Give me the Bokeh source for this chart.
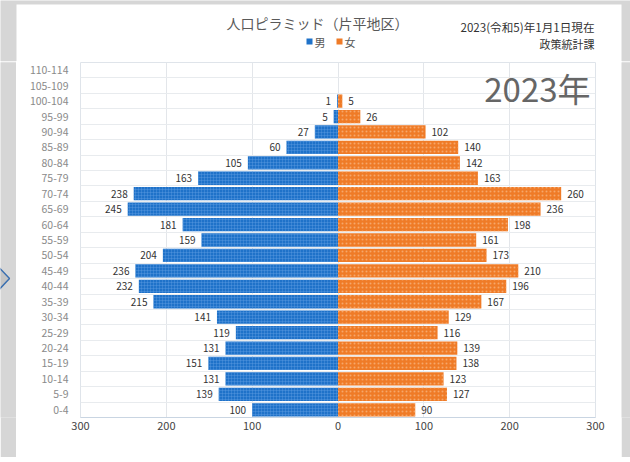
from bokeh.plotting import figure
from bokeh.layouts import column, row
from bokeh.models import Range1d, FixedTicker, ColumnDataSource, Label
from bokeh.core.properties import value
from bokeh.embed import file_html
from bokeh.resources import INLINE

FONT = "Noto Sans CJK JP"

ages = ["0-4", "5-9", "10-14", "15-19", "20-24", "25-29", "30-34", "35-39",
        "40-44", "45-49", "50-54", "55-59", "60-64", "65-69", "70-74", "75-79",
        "80-84", "85-89", "90-94", "95-99", "100-104", "105-109", "110-114"]
male = [100, 139, 131, 151, 131, 119, 141, 215, 232, 236, 204, 159, 181, 245,
        238, 163, 105, 60, 27, 5, 1, 0, 0]
female = [90, 127, 123, 138, 139, 116, 129, 167, 196, 210, 173, 161, 198, 236,
          260, 163, 142, 140, 102, 26, 5, 0, 0]
x_ticks = [-300, -200, -100, 0, 100, 200, 300]
x_tick_labels = ["300", "200", "100", "0", "100", "200", "300"]

title_text = "人口ピラミッド（片平地区）"
series_names = ["男", "女"]
date_text = "2023(令和5)年1月1日現在"
dept_text = "政策統計課"
year_text = "2023年"

BLUE = "#1f72c9"
ORANGE = "#ef7b27"
GRAY = "#d6d6d6"


def strip(w, h, y0, y1):
    f = figure(width=w, height=h, x_range=Range1d(0, w), y_range=Range1d(y1, y0),
               output_backend="svg", toolbar_location=None, min_border=0,
               x_axis_location=None, y_axis_location=None)
    f.grid.visible = False
    f.outline_line_color = None
    f.background_fill_color = GRAY
    f.border_fill_color = GRAY
    return f


# ---- header (page pixels 0..61) ----
hdr = strip(630, 61, 0, 61)
hdr.quad(left=[16], right=[621], top=[4], bottom=[61], fill_color="white", line_color=None)
hdr.text(x=[317], y=[22], text=[title_text], text_align="center", text_baseline="middle",
         text_font=value(FONT), text_font_size="14px", text_color="#595959")
hdr.scatter(x=[309, 339], y=[41, 41], marker="square", size=6,
            fill_color=[BLUE, ORANGE], line_color=None)
hdr.text(x=[314, 344], y=[41, 41], text=series_names, text_align="left",
         text_baseline="middle", text_font=value(FONT), text_font_size="11px",
         text_color="#595959")
hdr.text(x=[594], y=[26], text=[date_text], text_align="right", text_baseline="middle",
         text_font=value(FONT), text_font_size="11.6px", text_color="#333333")
hdr.text(x=[594], y=[43], text=[dept_text], text_align="right", text_baseline="middle",
         text_font=value(FONT), text_font_size="11px", text_color="#333333")

# ---- side strips ----
left = strip(16, 396, 61, 457)
left.patch(x=[-2, 9, -2], y=[289, 302, 315], fill_color="#c4c4c4",
           line_color="#3a6fb0", line_width=1.5)
right = strip(9, 396, 61, 457)
bottom = strip(630, 5, 457, 462)

# ---- main chart ----
p = figure(width=605, height=396, y_range=ages, x_range=Range1d(-300, 300),
           output_backend="svg", toolbar_location=None, title=None,
           min_border_left=64, min_border_right=26, min_border_top=1,
           min_border_bottom=40)
p.background_fill_color = "white"
p.border_fill_color = "white"
p.outline_line_color = "#dfe4ea"

src = ColumnDataSource(dict(age=ages, m=[-v for v in male], f=female))
p.hbar(y="age", left="m", right=0, height=0.86, source=src,
       fill_color=BLUE, line_color=None,
       hatch_pattern="+", hatch_color="#6aa6e6", hatch_alpha=0.55,
       hatch_scale=3, hatch_weight=0.6)
p.hbar(y="age", left=0, right="f", height=0.86, source=src,
       fill_color=ORANGE, line_color=None,
       hatch_pattern=".", hatch_color="#f8b27a", hatch_alpha=0.8,
       hatch_scale=4, hatch_weight=1)

ml = [(a, -v, str(v)) for a, v in zip(ages, male) if v > 0]
fl = [(a, v, str(v)) for a, v in zip(ages, female) if v > 0]
msrc = ColumnDataSource(dict(age=[t[0] for t in ml], x=[t[1] for t in ml], t=[t[2] for t in ml]))
fsrc = ColumnDataSource(dict(age=[t[0] for t in fl], x=[t[1] for t in fl], t=[t[2] for t in fl]))
p.text(x="x", y="age", text="t", source=msrc, text_align="right",
       text_baseline="middle", x_offset=-6, text_font=value(FONT),
       text_font_size="10px", text_color="#333333")
p.text(x="x", y="age", text="t", source=fsrc, text_align="left",
       text_baseline="middle", x_offset=6, text_font=value(FONT),
       text_font_size="10px", text_color="#333333")

p.xaxis.ticker = FixedTicker(ticks=x_ticks)
p.xaxis.major_label_overrides = {t: l for t, l in zip(x_ticks, x_tick_labels)}
p.xaxis.major_label_text_font = FONT
p.xaxis.major_label_text_font_size = "11px"
p.xaxis.major_label_text_color = "#444444"
p.xaxis.axis_line_color = "#c9d5e2"
p.xaxis.major_tick_line_color = None
p.xaxis.minor_tick_line_color = None
p.xaxis.major_label_standoff = -2

p.yaxis.major_label_text_font = FONT
p.yaxis.major_label_text_font_size = "10.5px"
p.yaxis.major_label_text_color = "#8a8a8a"
p.yaxis.axis_line_color = None
p.yaxis.major_tick_line_color = None
p.yaxis.major_label_standoff = 6

p.xgrid.ticker = FixedTicker(ticks=x_ticks)
p.xgrid.grid_line_color = "#e3e6ea"
p.ygrid.ticker = FixedTicker(ticks=list(range(1, len(ages))))
p.ygrid.grid_line_color = "#e8ebee"

p.add_layout(Label(x=294.2, y=21.32, text=year_text, text_align="right",
                   text_baseline="middle", text_font=FONT, text_font_size="33px",
                   text_color="#666666"))

layout = column(hdr, row(left, p, right), bottom)
open("out.html", "w").write(file_html(layout, INLINE))
